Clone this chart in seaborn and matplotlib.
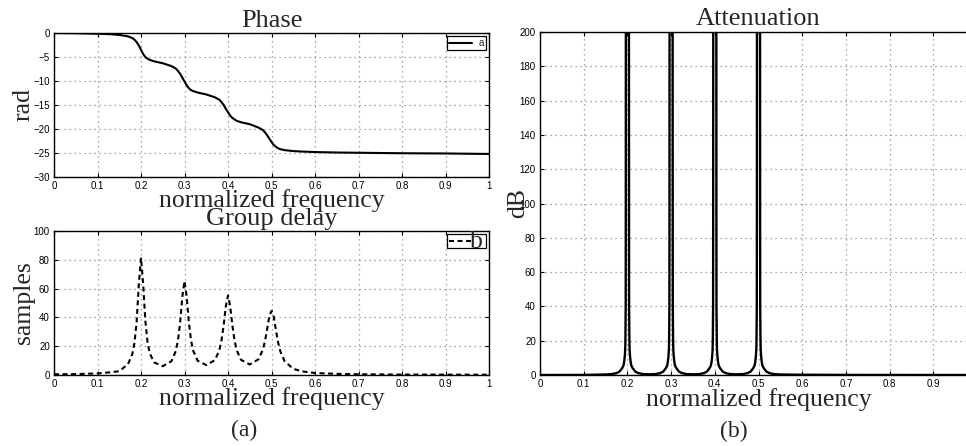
import matplotlib
matplotlib.use("Agg")
import matplotlib.pyplot as plt
import seaborn as sns

# ---- phase response (rad) -------------------------------------------------
phase_freq = [0, 0.05, 0.1, 0.13, 0.15, 0.17, 0.18, 0.185, 0.19, 0.195,
              0.2, 0.205, 0.21, 0.215, 0.22, 0.23, 0.25, 0.27, 0.28, 0.285,
              0.29, 0.295, 0.3, 0.305, 0.31, 0.315, 0.32, 0.33, 0.35, 0.37,
              0.38, 0.385, 0.39, 0.395, 0.4, 0.405, 0.41, 0.415, 0.42, 0.43,
              0.45, 0.47, 0.48, 0.485, 0.49, 0.495, 0.5, 0.505, 0.51, 0.515,
              0.52, 0.53, 0.55, 0.57, 0.6, 0.65, 0.7, 0.8, 0.9, 1.0]
phase_rad = [0, -0.05, -0.15, -0.25, -0.4, -0.7, -1.05, -1.4, -1.9, -2.6,
             -3.5, -4.4, -5.0, -5.35, -5.6, -5.9, -6.3, -6.9, -7.4, -7.9,
             -8.5, -9.3, -10.1, -10.9, -11.5, -11.9, -12.1, -12.4, -12.8, -13.4,
             -13.9, -14.4, -15.0, -15.8, -16.5, -17.2, -17.7, -18.0, -18.3, -18.6,
             -19.0, -19.7, -20.2, -20.7, -21.3, -22.0, -22.7, -23.3, -23.7, -24.0,
             -24.2, -24.4, -24.6, -24.7, -24.8, -24.9, -24.95, -25.05, -25.1, -25.2]

# ---- group delay (samples) ------------------------------------------------
delay_freq = list(phase_freq)
delay_samples = [0.5, 0.64, 1.1, 1.9, 2.6, 7.5, 14.5, 22.3, 37.2, 62.9,
                 81.5, 63.1, 37.5, 22.8, 15.2, 8.8, 6.1, 9.6, 16.6, 24.0,
                 36.5, 54.3, 65.2, 54.5, 36.7, 24.1, 16.9, 9.95, 6.9, 10.3,
                 17.1, 23.9, 34.4, 47.8, 55.2, 47.8, 34.5, 24.0, 17.2, 10.5,
                 7.3, 10.9, 17.5, 23.5, 31.9, 40.9, 44.5, 40.7, 31.5, 22.9,
                 16.7, 9.6, 4.3, 2.5, 1.4, 0.8, 0.5, 0.3, 0.25, 0.2]

# ---- attenuation (dB) with transmission zeros at 0.2, 0.3, 0.4, 0.5 -------
atten_freq = [
    0.0, 0.1, 0.15,
    0.165, 0.175, 0.182, 0.188, 0.191, 0.1925, 0.194, 0.195, 0.1955, 0.1961, 0.1963, 0.1965,
    0.2, 0.2035, 0.2037, 0.2039, 0.2045, 0.205, 0.206, 0.2075, 0.209, 0.212, 0.218, 0.225, 0.235,
    0.25,
    0.265, 0.275, 0.282, 0.288, 0.291, 0.2925, 0.294, 0.295, 0.2955, 0.2961, 0.2963, 0.2965,
    0.3, 0.3035, 0.3037, 0.3039, 0.3045, 0.305, 0.306, 0.3075, 0.309, 0.312, 0.318, 0.325, 0.335,
    0.35,
    0.365, 0.375, 0.382, 0.388, 0.391, 0.3925, 0.394, 0.395, 0.3955, 0.3961, 0.3963, 0.3965,
    0.4, 0.4035, 0.4037, 0.4039, 0.4045, 0.405, 0.406, 0.4075, 0.409, 0.412, 0.418, 0.425, 0.435,
    0.45,
    0.465, 0.475, 0.482, 0.488, 0.491, 0.4925, 0.494, 0.495, 0.4955, 0.4961, 0.4963, 0.4965,
    0.5, 0.5035, 0.5037, 0.5039, 0.5045, 0.505, 0.506, 0.5075, 0.509, 0.512, 0.518, 0.525, 0.535,
    0.55, 0.6, 0.7, 0.8, 1.0,
]
atten_db = [
    0.0, 0.05, 0.3,
    0.55, 1.1, 2.0, 4.0, 5.5, 7.5, 11, 15, 22, 40, 90, 250,
    320, 250, 90, 40, 22, 15, 11, 7.5, 5.5, 4.0, 2.0, 1.1, 0.55,
    0.4,
    0.55, 1.1, 2.0, 4.0, 5.5, 7.5, 11, 15, 22, 40, 90, 250,
    320, 250, 90, 40, 22, 15, 11, 7.5, 5.5, 4.0, 2.0, 1.1, 0.55,
    0.4,
    0.55, 1.1, 2.0, 4.0, 5.5, 7.5, 11, 15, 22, 40, 90, 250,
    320, 250, 90, 40, 22, 15, 11, 7.5, 5.5, 4.0, 2.0, 1.1, 0.55,
    0.4,
    0.55, 1.1, 2.0, 4.0, 5.5, 7.5, 11, 15, 22, 40, 90, 250,
    320, 250, 90, 40, 22, 15, 11, 7.5, 5.5, 4.0, 2.0, 1.1, 0.55,
    0.3, 0.15, 0.06, 0.03, 0.0,
]

freq_ticks = [0, 0.1, 0.2, 0.3, 0.4, 0.5, 0.6, 0.7, 0.8, 0.9, 1.0]
freq_tick_labels = ["0", "0.1", "0.2", "0.3", "0.4", "0.5", "0.6", "0.7", "0.8", "0.9", "1"]
phase_ticks = [-30, -25, -20, -15, -10, -5, 0]
delay_ticks = [0, 20, 40, 60, 80, 100]
atten_ticks = [0, 20, 40, 60, 80, 100, 120, 140, 160, 180, 200]

sns.set_style("ticks")
plt.rcParams["font.family"] = ["Liberation Sans", "DejaVu Sans"]
SERIF = ["Liberation Serif", "DejaVu Serif"]

W, H = 966, 446
fig = plt.figure(figsize=(W / 100, H / 100), dpi=100)


def frame(x0, y0, x1, y1):
    """Axes rectangle from pixel edges (origin top-left)."""
    return [x0 / W, 1 - y1 / H, (x1 - x0) / W, (y1 - y0) / H]


ax_phase = fig.add_axes(frame(54, 33, 489, 177))
ax_delay = fig.add_axes(frame(54, 231, 489, 375))
ax_att = fig.add_axes(frame(540, 32, 977, 375))


def style(ax, yticks, ylim, xlabels):
    ax.set_xlim(0, 1)
    ax.set_ylim(*ylim)
    ax.set_xticks(freq_ticks)
    ax.set_xticklabels(xlabels)
    ax.set_yticks(yticks)
    ax.tick_params(direction="in", length=3, width=0.8, top=True, right=True,
                   labelsize=7, pad=3, colors="black")
    for s in ax.spines.values():
        s.set_visible(True)
        s.set_linewidth(1.0)
        s.set_color("black")
    ax.grid(True, color="#8a8a8a", linestyle=(0, (1, 3)), linewidth=0.9)
    ax.set_axisbelow(True)


LEG = dict(loc="upper right", fontsize=7, frameon=True, fancybox=False,
           edgecolor="black", framealpha=1, borderpad=0.2, handlelength=2.4,
           handletextpad=0.6, borderaxespad=0.35)

# Phase
sns.lineplot(x=phase_freq, y=phase_rad, ax=ax_phase, color="black",
             linewidth=1.5, errorbar=None, label="a")
style(ax_phase, phase_ticks, (-30, 0), freq_tick_labels)
ax_phase.set_title("Phase", fontsize=19, fontfamily=SERIF, pad=4.3)
ax_phase.set_xlabel("normalized frequency", fontsize=18.5, fontfamily=SERIF)
ax_phase.xaxis.set_label_coords(0.5, -0.083)
ax_phase.set_ylabel("rad", fontsize=18.5, fontfamily=SERIF)
ax_phase.yaxis.set_label_coords(-0.044, 0.5)
leg = ax_phase.legend(**LEG)
leg.get_frame().set_linewidth(0.9)

# Group delay
sns.lineplot(x=delay_freq, y=delay_samples, ax=ax_delay, color="black",
             linewidth=1.5, linestyle=(0, (2.4, 1.7)), errorbar=None, label="b")
style(ax_delay, delay_ticks, (0, 100), freq_tick_labels)
ax_delay.set_title("Group delay", fontsize=19, fontfamily=SERIF, pad=4.1)
ax_delay.set_xlabel("normalized frequency", fontsize=18.5, fontfamily=SERIF)
ax_delay.xaxis.set_label_coords(0.5, -0.083)
ax_delay.set_ylabel("samples", fontsize=18.5, fontfamily=SERIF)
ax_delay.yaxis.set_label_coords(-0.044, 0.5)
leg = ax_delay.legend(**LEG)
leg.get_frame().set_linewidth(0.9)
leg.get_texts()[0].set_alpha(0)
ax_delay.text(0.956, 0.882, "b", transform=ax_delay.transAxes, fontsize=18.5,
              fontfamily=SERIF, va="baseline", ha="left", zorder=6)

# Attenuation (the right edge of this panel runs past the figure border)
sns.lineplot(x=atten_freq, y=atten_db, ax=ax_att, color="black",
             linewidth=1.7, errorbar=None)
style(ax_att, atten_ticks, (0, 200), freq_tick_labels[:-1] + [""])
ax_att.set_title("Attenuation", fontsize=19, fontfamily=SERIF, pad=5)
ax_att.set_xlabel("normalized frequency", fontsize=18.5, fontfamily=SERIF)
ax_att.xaxis.set_label_coords(0.5, -0.038)
ax_att.set_ylabel("dB", fontsize=18.5, fontfamily=SERIF)
ax_att.yaxis.set_label_coords(-0.024, 0.5)

fig.text(244 / W, 1 - 430 / H, "(a)", fontsize=17, fontfamily=SERIF,
         ha="center", va="center")
fig.text(734 / W, 1 - 431 / H, "(b)", fontsize=17, fontfamily=SERIF,
         ha="center", va="center")

fig.savefig("out.png", dpi=100)
